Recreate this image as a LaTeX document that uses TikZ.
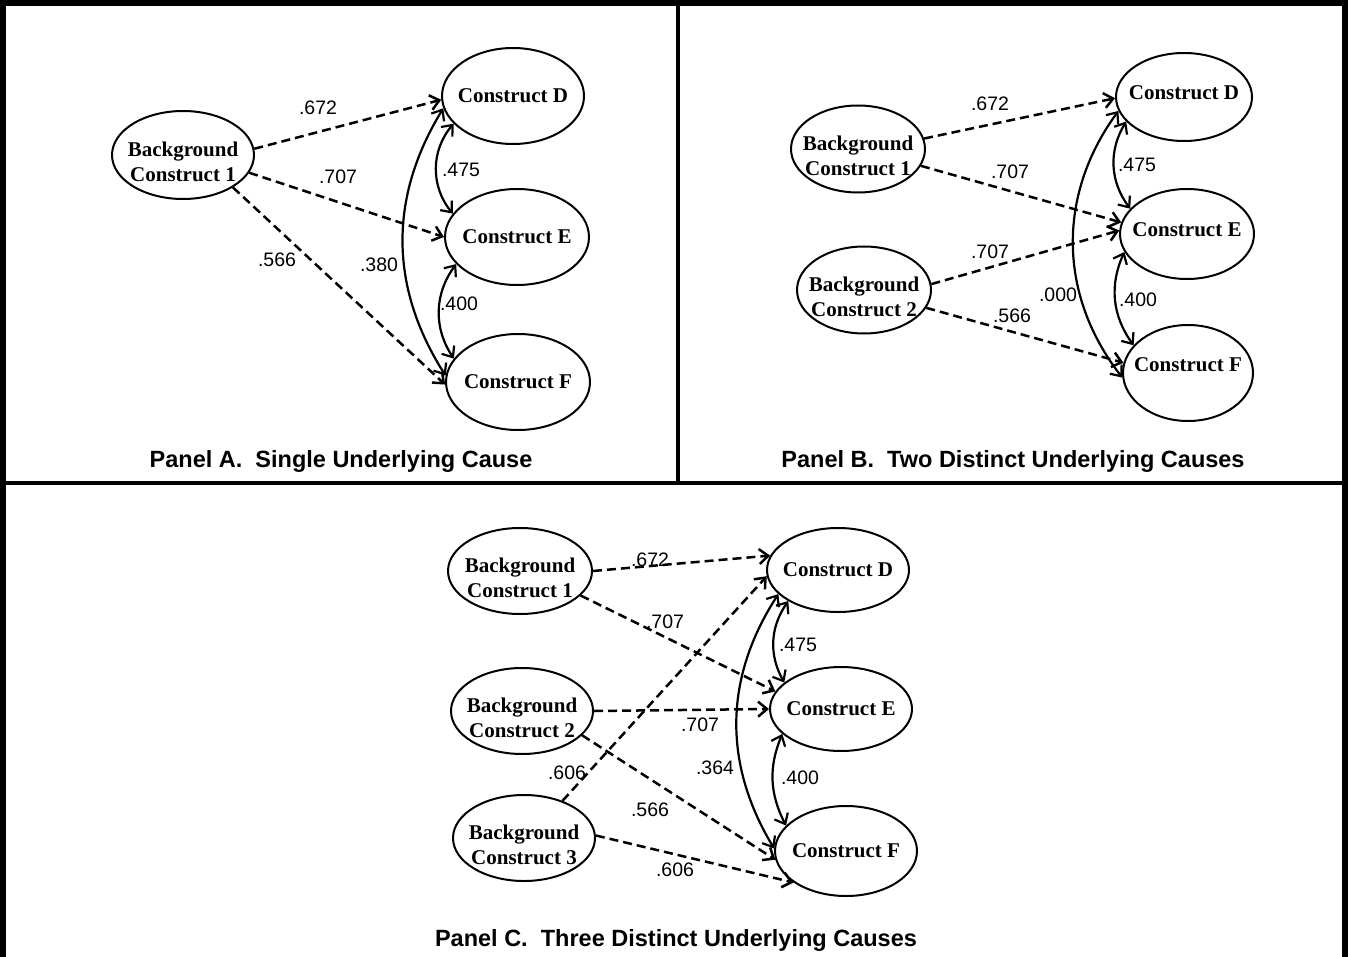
\documentclass[tikz,border=0pt]{standalone}
\usepackage{fontspec}
\newfontfamily\consfont{Liberation Serif}
\newfontfamily\numfont{Liberation Sans}
\usetikzlibrary{arrows.meta,shapes.geometric}

\begin{document}
\begin{tikzpicture}[x=1pt, y=-1pt,
          >={Straight Barb[length=9pt,width=15pt]},
          cons/.style 2 args={ellipse, draw, line width=2pt, inner xsep=-22pt,
                      inner ysep=0pt, minimum width=#1, minimum height=#2,
                      align=center, font=\consfont\bfseries\fontsize{21}{25}\selectfont},
          bgcons/.style 2 args={cons={#1}{#2}, text height=54pt},
          coef/.style={font=\numfont\fontsize{19.5}{22}\selectfont, inner sep=0pt},
          ptitle/.style={font=\numfont\bfseries\fontsize{23.5}{28}\selectfont, anchor=base},
          cause/.style={->, line width=2.5pt, dash pattern=on 9pt off 5pt},
          corr/.style={<->, line width=2.2pt},
          framerule/.style={line width=#1}
        ]
          \useasboundingbox (0,0) rectangle (1348,957);
          \draw[framerule=6.5pt, line join=miter] (3,957) -- (3,3) -- (1345,3) -- (1345,957);
          \draw[framerule=3.5pt] (0,483) -- (1348,483);
          \draw[framerule=3.5pt] (678,3) -- (678,483);

          % Panel A
          \node[bgcons={142pt}{88pt}] (bgA1) at (183,155) {Background\\Construct 1};
          \node[cons={142pt}{96pt}] (dA) at (513,96)  {Construct D};
          \node[cons={144pt}{96pt}] (eA) at (517,237) {Construct E};
          \node[cons={144pt}{96pt}] (fA) at (518,382) {Construct F};
          \draw[cause] (bgA1.5)   -- (dA.183);
          \draw[cause] (bgA1.345) -- (eA.180);
          \draw[cause] (bgA1.327) -- (fA.182);
          \draw[corr] (dA.190) to[bend right=32] (fA.175);
          \draw[corr] (dA.205) to[bend right=40] (eA.160);
          \draw[corr] (eA.204) to[bend right=35] (fA.160);
          \node[coef] (cA1) at (318,108) {.672};
          \node[coef] (cA2) at (338,177) {.707};
          \node[coef] (cA3) at (277,260) {.566};
          \node[coef] (cA4) at (379,265) {.380};
          \node[coef] (cA5) at (461,170) {.475};
          \node[coef] (cA6) at (459,304) {.400};
          \node[ptitle] (tA) at (341,467) {Panel A.\ \ Single Underlying Cause};

          % Panel B
          \node[bgcons={134pt}{87pt}] (bgB1) at (858,149) {Background\\Construct 1};
          \node[bgcons={134pt}{87pt}] (bgB2) at (864,290) {Background\\Construct 2};
          \node[cons={136pt}{88pt}, text depth=8pt] (dB) at (1184,97)  {Construct D};
          \node[cons={134pt}{90pt}, text depth=8pt] (eB) at (1187,234) {Construct E};
          \node[cons={130pt}{96pt}, text depth=16pt] (fB) at (1188,373) {Construct F};
          \draw[cause] (bgB1.9)   -- (dB.181);
          \draw[cause] (bgB1.345) -- (eB.170);
          \draw[cause] (bgB2.5)   -- (eB.177);
          \draw[cause] (bgB2.344) -- (fB.171);
          \draw[corr] (dB.192) to[bend right=37] (fB.184);
          \draw[corr] (dB.203) to[bend right=34] (eB.156);
          \draw[corr] (eB.196) to[bend right=30] (fB.153);
          \node[coef] (cB1) at (990,104)  {.672};
          \node[coef] (cB2) at (1010,172) {.707};
          \node[coef] (cB3) at (990,252)  {.707};
          \node[coef] (cB4) at (1012,316) {.566};
          \node[coef] (cB5) at (1058,295) {.000};
          \node[coef] (cB6) at (1137,165) {.475};
          \node[coef] (cB7) at (1138,300) {.400};
          \node[ptitle] (tB) at (1013,467) {Panel B.\ \ Two Distinct Underlying Causes};

          % Panel C
          \node[bgcons={144pt}{86pt}] (bgC1) at (520,571) {Background\\Construct 1};
          \node[bgcons={142pt}{86pt}] (bgC2) at (522,711) {Background\\Construct 2};
          \node[bgcons={142pt}{86pt}] (bgC3) at (524,838) {Background\\Construct 3};
          \node[cons={142pt}{84pt}] (dC) at (838,570) {Construct D};
          \node[cons={142pt}{84pt}] (eC) at (841,709) {Construct E};
          \node[cons={142pt}{90pt}] (fC) at (846,851) {Construct F};
          \draw[cause] (bgC1.0)   -- (dC.168);
          \draw[cause] (bgC1.338) -- (eC.165);
          \draw[cause] (bgC2.0)   -- (eC.180);
          \draw[cause] (bgC2.338) -- (fC.187);
          \draw[cause] (bgC3.44)  -- (dC.185);
          \draw[cause] (bgC3.2)   -- (fC.211);
          \draw[corr] (dC.202) to[bend right=32] (fC.178);
          \draw[corr] (dC.212) to[bend right=32] (eC.155);
          \draw[corr] (eC.203) to[bend right=25] (fC.157);
          \node[coef] (cC1) at (650,560) {.672};
          \node[coef] (cC2) at (665,622) {.707};
          \node[coef] (cC3) at (700,725) {.707};
          \node[coef] (cC4) at (567,773) {.606};
          \node[coef] (cC5) at (650,810) {.566};
          \node[coef] (cC6) at (675,870) {.606};
          \node[coef] (cC7) at (715,768) {.364};
          \node[coef] (cC8) at (798,645) {.475};
          \node[coef] (cC9) at (800,778) {.400};
          \node[ptitle] (tC) at (676,946) {Panel C.\ \ Three Distinct Underlying Causes};
        \end{tikzpicture}
\end{document}
